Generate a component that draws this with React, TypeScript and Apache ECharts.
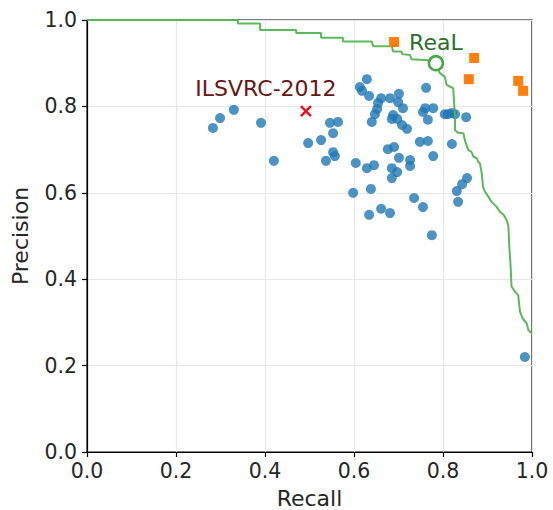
import React, { useEffect, useRef } from "react";
import * as echarts from "echarts";

const modelRecall = [
  0.283, 0.299, 0.33, 0.391, 0.42, 0.497, 0.526, 0.546, 0.564, 0.553, 0.553, 0.557, 0.537, 0.604, 0.629, 0.645,
  0.598, 0.638, 0.634, 0.661, 0.681, 0.735, 0.755, 0.775, 0.984, 0.629, 0.613, 0.618, 0.634, 0.661, 0.681, 0.701,
  0.699, 0.654, 0.652, 0.647, 0.71, 0.688, 0.685, 0.697, 0.64, 0.708, 0.719, 0.762, 0.76, 0.778, 0.755, 0.766,
  0.804, 0.811, 0.82, 0.827, 0.852, 0.748, 0.766, 0.82, 0.778, 0.726, 0.726, 0.676, 0.69, 0.701, 0.685, 0.697,
  0.685, 0.854, 0.843, 0.831, 0.834,
];
const modelPrecision = [
  0.75, 0.773, 0.792, 0.762, 0.674, 0.715, 0.722, 0.762, 0.764, 0.738, 0.694, 0.685, 0.674, 0.669, 0.657, 0.664,
  0.6, 0.609, 0.549, 0.563, 0.553, 0.588, 0.567, 0.502, 0.22, 0.863, 0.845, 0.836, 0.824, 0.819, 0.819, 0.829,
  0.81, 0.808, 0.794, 0.782, 0.796, 0.78, 0.771, 0.771, 0.764, 0.757, 0.748, 0.843, 0.796, 0.796, 0.787, 0.769,
  0.782, 0.782, 0.785, 0.782, 0.775, 0.718, 0.72, 0.713, 0.685, 0.676, 0.662, 0.701, 0.706, 0.681, 0.657, 0.648,
  0.634, 0.634, 0.62, 0.604, 0.579,
];

const orangeRecall = [0.69, 0.87, 0.858, 0.969, 0.98];
const orangePrecision = [0.949, 0.912, 0.863, 0.859, 0.836];

const ilsvrcPoint = [0.492, 0.789];
const realPoint = [0.784, 0.9];

const curveRecall = [
  0, 0.339, 0.339, 0.389, 0.389, 0.47, 0.47, 0.526, 0.526, 0.575, 0.575, 0.64, 0.643, 0.685, 0.688, 0.707, 0.708,
  0.726, 0.729, 0.767, 0.784, 0.793, 0.804, 0.808, 0.823, 0.825, 0.827, 0.827, 0.834, 0.846, 0.849, 0.857, 0.864,
  0.868, 0.876, 0.879, 0.883, 0.887, 0.89, 0.894, 0.902, 0.909, 0.92, 0.928, 0.936, 0.943, 0.947, 0.949, 0.952,
  0.954, 0.962, 0.969, 0.973, 0.979, 0.988, 0.992, 1.0,
];
const curvePrecision = [
  1.0, 1.0, 0.992, 0.992, 0.977, 0.977, 0.97, 0.97, 0.959, 0.959, 0.95, 0.95, 0.939, 0.939, 0.927, 0.927, 0.921,
  0.919, 0.909, 0.907, 0.9, 0.877, 0.869, 0.85, 0.842, 0.807, 0.776, 0.745, 0.739, 0.738, 0.722, 0.699, 0.695,
  0.684, 0.68, 0.672, 0.668, 0.645, 0.614, 0.603, 0.591, 0.579, 0.568, 0.556, 0.549, 0.537, 0.522, 0.475, 0.429,
  0.383, 0.371, 0.363, 0.325, 0.309, 0.298, 0.282, 0.275,
];

const FONT = "DejaVu Sans";
const TEXT = "#262626";

export default function App() {
  const ref = useRef<HTMLDivElement>(null);
  useEffect(() => {
    if (!ref.current) return;
    const chart = echarts.init(ref.current, undefined, { renderer: "svg" });
    const axisCommon = {
      type: "value",
      min: 0,
      max: 1,
      interval: 0.2,
      nameLocation: "middle",
      nameTextStyle: { fontFamily: FONT, fontSize: 22, color: TEXT },
      axisLine: { show: true, lineStyle: { color: "#000", width: 1.2 } },
      axisTick: { show: true, inside: false, length: 5, lineStyle: { color: "#000", width: 1.2 } },
      axisLabel: {
        fontFamily: FONT,
        fontSize: 20.5,
        color: TEXT,
        formatter: (v: number) => v.toFixed(1),
      },
      splitLine: { show: true, lineStyle: { color: "#e8e8e8", width: 1.2 } },
    };
    chart.setOption({
      animation: false,
      backgroundColor: "#fff",
      grid: {
        left: 87,
        right: 21,
        top: 20,
        bottom: 58,
        containLabel: false,
        outerBoundsMode: "none",
        show: true,
        borderColor: "#000",
        borderWidth: 1.2,
        backgroundColor: "transparent",
      },
      xAxis: {
        ...axisCommon,
        name: "Recall",
        nameGap: 35,
        axisLabel: { ...axisCommon.axisLabel, margin: 8 },
      },
      yAxis: {
        ...axisCommon,
        name: "Precision",
        nameGap: 56,
        axisLabel: { ...axisCommon.axisLabel, margin: 10 },
      },
      series: [
        {
          type: "scatter",
          data: modelRecall.map((r, i) => [r, modelPrecision[i]]),
          symbol: "circle",
          symbolSize: 10,
          itemStyle: { color: "#1f77b4", opacity: 0.8 },
          z: 3,
        },
        {
          type: "line",
          data: curveRecall.map((r, i) => [r, curvePrecision[i]]),
          showSymbol: false,
          symbol: "none",
          clip: false,
          lineStyle: { color: "#52b452", width: 2, opacity: 0.95 },
          z: 4,
        },
        {
          type: "scatter",
          data: orangeRecall.map((r, i) => [r, orangePrecision[i]]),
          symbol: "rect",
          symbolSize: 10,
          itemStyle: { color: "#ff7f0e", opacity: 1 },
          z: 5,
        },
        {
          type: "scatter",
          data: [ilsvrcPoint],
          symbol: "path://M0,0L10,10M10,0L0,10",
          symbolSize: 10,
          itemStyle: { color: "rgba(0,0,0,0)", borderColor: "#e8141c", borderWidth: 2.5, opacity: 1 },
          label: {
            show: true,
            formatter: "ILSVRC-2012",
            position: "top",
            distance: 5,
            offset: [-40, 0],
            fontFamily: FONT,
            fontSize: 22,
            color: "#6b1414",
          },
          z: 6,
        },
        {
          type: "scatter",
          data: [realPoint],
          symbol: "circle",
          symbolSize: 14,
          itemStyle: { color: "#fff", borderColor: "#44a844", borderWidth: 2.5, opacity: 1 },
          label: {
            show: true,
            formatter: "ReaL",
            position: "top",
            distance: 1,
            fontFamily: FONT,
            fontSize: 22,
            color: "#2b6e2b",
          },
          z: 7,
        },
      ],
    });
    return () => chart.dispose();
  }, []);
  return <div ref={ref} style={{ width: 553, height: 510, position: "absolute", left: 0, top: 0 }} />;
}
